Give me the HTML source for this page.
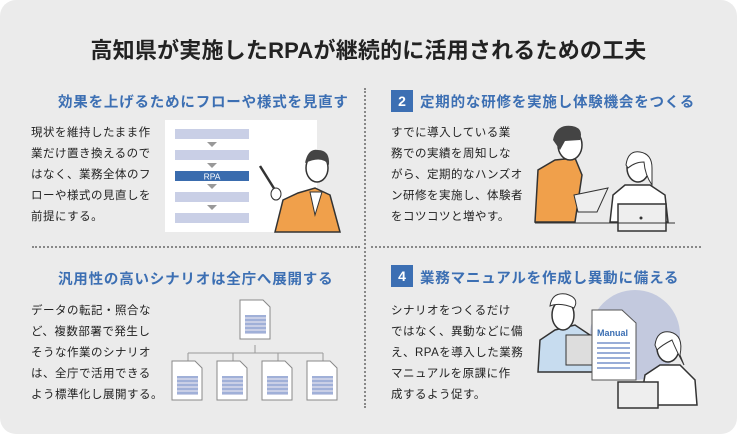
<!DOCTYPE html>
<html><head><meta charset="utf-8"><style>
body{margin:0;width:737px;height:434px;background:#fff;position:relative;overflow:hidden;font-family:"Liberation Sans","Noto Sans CJK JP",sans-serif}
#bg{position:absolute;left:0;top:0;width:737px;height:434px;background:#ebebeb;border-radius:16px}
h1{position:absolute;margin:0;left:0;width:737px;top:33px;text-align:center;font-size:22px;font-weight:bold;color:#222;font-family:"Liberation Sans","Noto Sans CJK JP",sans-serif;letter-spacing:0.2px}
.h{position:absolute;font-size:14.5px;font-weight:bold;color:#3c6fb3;white-space:nowrap;letter-spacing:0.8px}
.num{position:absolute;width:22px;height:22px;background:#3c6fb3;color:#fff;font-weight:bold;font-size:14px;text-align:center;line-height:22px}
.b{position:absolute;font-size:11.5px;line-height:21px;color:#222;letter-spacing:0.5px}
.vd{position:absolute;left:364px;top:88px;height:320px;border-left:2px dotted #888}
.hd{position:absolute;top:246px;border-top:2px dotted #888}
svg{position:absolute;left:0;top:0}
</style></head><body>
<div id="bg"></div>
<h1>高知県が実施したRPAが継続的に活用されるための工夫</h1>
<div class="vd"></div>
<div class="hd" style="left:32px;width:328px"></div>
<div class="hd" style="left:371px;width:330px"></div>

<div class="h" style="left:58px;top:91px">効果を上げるためにフローや様式を見直す</div>
<div class="b" style="left:31px;top:123px">現状を維持したまま作<br>業だけ置き換えるので<br>はなく、業務全体のフ<br>ローや様式の見直しを<br>前提にする。</div>

<div class="num" style="left:391px;top:90px">2</div>
<div class="h" style="left:420px;top:91px">定期的な研修を実施し体験機会をつくる</div>
<div class="b" style="left:391px;top:123px">すでに導入している業<br>務での実績を周知しな<br>がら、定期的なハンズオ<br>ン研修を実施し、体験者<br>をコツコツと増やす。</div>

<div class="h" style="left:58px;top:268px">汎用性の高いシナリオは全庁へ展開する</div>
<div class="b" style="left:31px;top:301px">データの転記・照合な<br>ど、複数部署で発生し<br>そうな作業のシナリオ<br>は、全庁で活用できる<br>よう標準化し展開する。</div>

<div class="num" style="left:391px;top:265px">4</div>
<div class="h" style="left:420px;top:267px">業務マニュアルを作成し異動に備える</div>
<div class="b" style="left:391px;top:301px">シナリオをつくるだけ<br>ではなく、異動などに備<br>え、RPAを導入した業務<br>マニュアルを原課に作<br>成するよう促す。</div>

<svg width="737" height="434" xmlns="http://www.w3.org/2000/svg">
<rect x="165" y="120" width="152" height="112" fill="#fff"/>
<g fill="#c9cfe6">
<rect x="175" y="129" width="74" height="10"/><rect x="175" y="150" width="74" height="10"/>
<rect x="175" y="192" width="74" height="10"/><rect x="175" y="213" width="74" height="10"/></g>
<rect x="175" y="171" width="74" height="10" fill="#3a6cae"/>
<text x="212" y="179.5" font-size="8.5" fill="#fff" text-anchor="middle" font-family="Liberation Sans">RPA</text>
<g fill="#999"><path d="M207 142h10l-5 5z"/><path d="M207 163h10l-5 5z"/><path d="M207 184h10l-5 5z"/><path d="M207 205h10l-5 5z"/></g>
<line x1="260" y1="166" x2="275" y2="190" stroke="#333" stroke-width="2.5"/>
<path d="M275 232 L283 200 L298 193 L315 188 L330 195 L340 232Z" fill="#f0a04b" stroke="#333" stroke-width="1.5"/>
<path d="M310 192 L315 215 L322 192Z" fill="#fff" stroke="#333"/>
<ellipse cx="317" cy="168" rx="11" ry="14" fill="#fff" stroke="#333" stroke-width="1.5"/>
<path d="M305 163 Q308 148 318 150 Q330 150 329 165 Q322 155 305 163Z" fill="#444"/>
<ellipse cx="276" cy="194" rx="5" ry="6" fill="#fff" stroke="#333"/>
<path d="M535 222 L538 170 L555 160 L575 158 L582 175 L575 222Z" fill="#f0a04b" stroke="#333" stroke-width="1.5"/>
<ellipse cx="570" cy="145" rx="12" ry="15" fill="#fff" stroke="#333" stroke-width="1.5"/>
<path d="M553 140 Q556 124 572 126 Q584 128 580 140 L565 141 L560 150Z" fill="#444"/>
<path d="M574 195 L608 188 L597 212 L578 212Z" fill="#eee" stroke="#333"/>
<path d="M610 222 L613 195 L625 185 L650 185 L665 195 L668 222Z" fill="#fff" stroke="#333" stroke-width="1.5"/>
<ellipse cx="638" cy="168" rx="11" ry="14" fill="#fff" stroke="#333" stroke-width="1.5"/>
<path d="M626 165 Q628 150 640 152 Q652 154 652 168 L652 185 Q645 175 644 162 Q635 162 628 168Z" fill="#fff" stroke="#333"/>
<rect x="618" y="204" width="48" height="27" fill="#eee" stroke="#333" stroke-width="1.5"/>
<circle cx="641" cy="218" r="1.5" fill="#333"/>
<line x1="535" y1="223" x2="675" y2="223" stroke="#333"/>
<g stroke="#999" fill="none"><line x1="255" y1="345" x2="255" y2="353"/><line x1="188" y1="353" x2="323" y2="353"/>
<line x1="188" y1="353" x2="188" y2="361"/><line x1="233" y1="353" x2="233" y2="361"/><line x1="278" y1="353" x2="278" y2="361"/><line x1="323" y1="353" x2="323" y2="361"/></g>
<g id="d"><path d="M240 300 L263 300 L270 307 L270 339 L240 339Z" fill="#fff" stroke="#888"/><rect x="245" y="315" width="21" height="19" fill="#c9cfe6"/>
<g stroke="#5a7cc0" stroke-width="0.8"><line x1="245" y1="316" x2="266" y2="316"/><line x1="245" y1="320" x2="266" y2="320"/><line x1="245" y1="324" x2="266" y2="324"/><line x1="245" y1="328" x2="266" y2="328"/><line x1="245" y1="332" x2="266" y2="332"/></g></g>
<use href="#d" x="-68" y="61"/><use href="#d" x="-23" y="61"/><use href="#d" x="22" y="61"/><use href="#d" x="67" y="61"/>
<circle cx="635" cy="335" r="45" fill="#c3c9de"/>
<path d="M538 372 L540 340 L555 330 L575 325 L590 335 L595 372Z" fill="#c7dcef" stroke="#333" stroke-width="1.5"/>
<ellipse cx="563" cy="315" rx="11" ry="15" fill="#fff" stroke="#333" stroke-width="1.5"/>
<path d="M550 306 Q552 292 566 294 Q580 298 574 308 Q560 302 550 306Z" fill="#fff" stroke="#333"/>
<rect x="566" y="335" width="40" height="30" fill="#ddd" stroke="#333"/>
<path d="M592 310 L622 310 L636 323 L636 380 L592 380Z" fill="#fff" stroke="#555"/>
<text x="597" y="336" font-size="9" font-weight="bold" fill="#3c6fb3" font-family="Liberation Sans">Manual</text>
<g stroke="#5a7cc0" stroke-width="1.2"><line x1="597" y1="343" x2="630" y2="343"/><line x1="597" y1="348" x2="630" y2="348"/><line x1="597" y1="353" x2="630" y2="353"/><line x1="597" y1="358" x2="630" y2="358"/><line x1="597" y1="363" x2="630" y2="363"/><line x1="597" y1="368" x2="630" y2="368"/></g>
<path d="M640 405 L645 375 L660 365 L680 365 L695 380 L697 405Z" fill="#fff" stroke="#333" stroke-width="1.5"/>
<ellipse cx="668" cy="348" rx="11" ry="14" fill="#fff" stroke="#333" stroke-width="1.5"/>
<path d="M655 345 Q657 330 670 332 Q684 335 680 355 L684 365 Q676 350 672 340 Q662 345 657 350Z" fill="#fff" stroke="#333"/>
<rect x="618" y="382" width="40" height="26" fill="#eee" stroke="#333" stroke-width="1.5"/>
</svg>
</body></html>
